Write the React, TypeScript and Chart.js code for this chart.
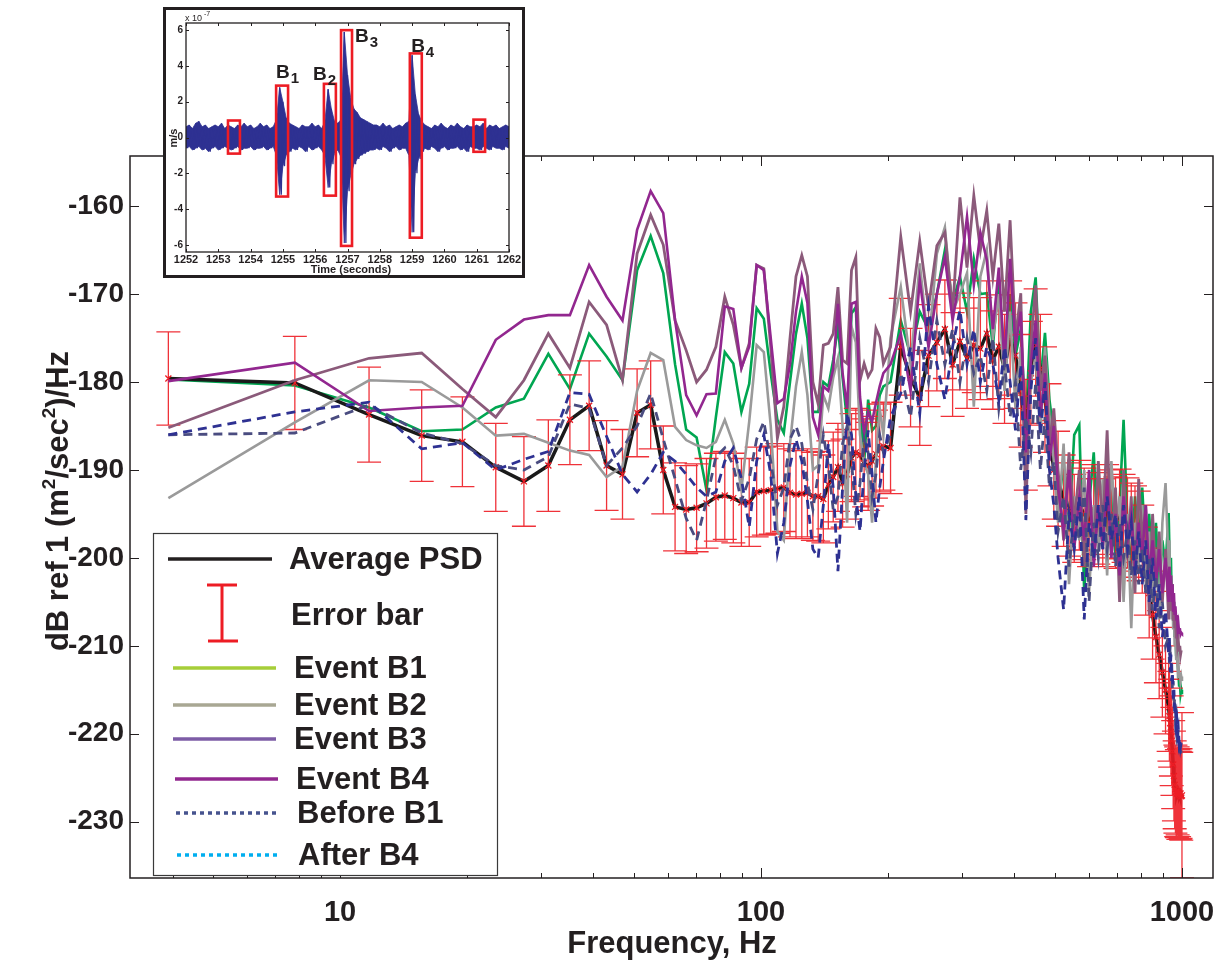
import React, { useEffect, useRef } from 'react';
import { Chart, registerables } from 'chart.js';

Chart.register(...registerables);

// ---------------- Main PSD chart data ----------------
const freqHz = [
  3.91, 7.81, 11.72, 15.63, 19.53, 23.44, 27.34, 31.25, 35.16, 39.06,
  42.97, 46.88, 50.78, 54.69, 58.59, 62.5, 66.41, 70.31, 74.22, 78.13,
  82.03, 85.94, 89.84, 93.75, 97.66, 101.56, 105.47, 109.38, 113.28, 117.19,
  121.09, 125.0, 128.91, 132.81, 136.72, 140.63, 144.53, 148.44, 152.34, 156.25,
  160.16, 164.06, 167.97, 171.88, 175.78, 179.69, 183.59, 187.5, 191.41, 195.31,
  203.1, 214.8, 226.6, 238.3, 250.0, 261.7, 273.4, 285.2, 296.9, 308.6, 320.3, 332.0, 343.8,
  355.5, 367.2, 378.9, 390.6, 402.3, 414.1, 425.8, 437.5, 449.2, 460.9, 472.7, 484.4, 496.1,
  507.8, 523.4, 539.1, 554.7, 570.3, 585.9, 601.6, 617.2, 632.8, 648.4, 664.1, 679.7, 695.3,
  710.9, 726.6, 742.2, 757.8, 773.4,
  789.1, 804.7, 820.3, 835.9, 851.6, 867.2, 882.8, 898.4, 914.1, 929.7,
  933.6, 937.5, 941.4, 945.3, 949.2, 953.1, 957.0, 960.9, 964.8, 968.8,
  972.7, 976.6, 980.5, 984.4, 988.3, 992.2, 996.1, 1000,
];

const averagePsd = [
  -179.6, -180.1, -183.7, -186.1, -186.8, -189.7, -191.3, -189.5, -184.3, -182.7,
  -189.5, -190.5, -183.5, -182.6, -190.0, -194.2, -194.5, -194.3, -193.8, -193.1,
  -192.9, -193.2, -193.7, -193.7, -192.5, -192.4, -192.3, -192.1, -192.0, -192.6,
  -192.8, -192.7, -192.6, -193.0, -193.0, -193.3, -191.7, -190.8, -189.7, -191.5,
  -190.5, -188.6, -188.0, -188.3, -189.2, -189.6, -189.0, -188.2, -187.5, -187.3,
  -187.5, -176.0, -179.5, -181.8, -177.0, -175.5, -174.0, -178.0, -175.4, -177.3, -175.8, -176.2, -174.5,
  -177.5, -176.0, -178.5, -175.0, -177.0, -181.0, -186.0, -179.0, -175.5, -178.5, -182.0, -186.0, -190.0,
  -191.0, -193.5, -194.5, -195.5, -194.0, -195.0, -196.0, -194.5, -195.5, -196.0, -194.5, -195.0, -196.0,
  -195.0, -195.5, -196.0, -196.5, -197.0,
  -197.5, -199.0, -201.5, -204.0, -206.5, -209.0, -211.0, -213.0, -215.0, -217.0,
  -218.0, -218.8, -219.8, -220.8, -222.0, -223.5, -224.8, -225.8, -226.3, -226.6,
  -226.8, -226.5, -226.9, -226.7, -227.0, -226.8, -227.1, -227.0,
];

const errorHalf = [
  5.3, 5.3, 5.4, 5.2, 5.1, 5.0, 5.1, 5.2, 5.1, 5.1,
  5.1, 5.1, 5.0, 5.0, 5.0, 5.0, 5.0, 5.0, 5.1, 5.0,
  5.0, 5.1, 5.0, 5.0, 5.1, 5.0, 5.0, 5.1, 5.0, 5.0,
  5.0, 5.1, 5.0, 5.0, 5.1, 5.0, 5.0, 5.1, 5.0, 5.0,
  5.1, 5.0, 5.0, 5.1, 5.0, 5.0, 5.1, 5.0, 5.0, 5.0,
  5.2, 5.5, 5.6, 5.4, 5.8, 5.5, 5.6, 5.9, 5.5, 5.7, 5.4, 5.8, 6.0,
  5.6, 5.9, 6.2, 6.5, 6.0, 6.4, 6.3, 5.9, 6.1, 6.2, 6.0, 5.8, 5.6,
  5.4, 5.2, 5.3, 5.0, 5.1, 5.2, 5.0, 5.1, 5.2, 5.0, 5.1, 5.0, 5.2,
  5.1, 5.0, 5.1, 5.0, 5.2,
  5.1, 5.0, 5.0, 5.1, 5.0, 5.2, 5.0, 5.1, 5.0, 5.0,
  5.1, 5.0, 5.0, 5.1, 5.0, 5.0, 5.1, 5.0, 5.0, 5.1,
  5.0, 5.0, 5.1, 5.0, 5.0, 5.1, 5.0, 9.4,
];

const eventB1 = [
  -179.7, -180.4, -182.9, -185.6, -185.4, -182.9, -181.9, -176.8, -180.8, -174.5,
  -177.1, -179.8, -167.3, -163.4, -167.6, -178.0, -185.4, -186.3, -192.3, -184.0,
  -176.6, -177.9, -183.4, -180.2, -171.6, -172.8, -179.0, -184.3, -185.8, -180.0,
  -174.5, -171.1, -175.0, -183.4, -183.4, -180.0, -180.5, -177.5, -173.7, -179.5,
  -184.5, -172.2, -171.5, -183.0, -189.2, -182.0, -185.5, -185.0, -181.5, -180.5,
  -180.0, -173.0, -177.0, -172.0, -174.0, -170.0, -165.0, -171.0, -168.0, -172.0, -166.0, -170.0, -169.9,
  -176.0, -168.0, -178.0, -170.0, -177.0, -174.0, -185.0, -172.0, -168.1, -180.0, -174.4, -182.0, -186.0,
  -195.0, -189.0, -197.0, -186.0, -184.9, -203.9, -194.0, -188.0, -199.0, -192.0, -197.0, -190.0, -200.0,
  -194.0, -184.3, -196.0, -201.0, -193.0,
  -199.0, -192.0, -200.0, -195.0, -202.0, -196.0, -204.0, -198.0, -201.0, -194.9,
  -199.0, -203.0, -200.0, -205.0, -203.0, -207.0, -205.0, -209.0, -208.0, -211.0,
  -210.0, -212.0, -213.0, -214.5, -214.0, -215.5, -215.0, -215.5,
];

const eventB2 = [
  -193.2, -184.6, -179.8, -180.0, -182.9, -186.1, -185.9, -186.9, -187.8, -188.3,
  -190.8, -189.6, -181.0, -176.7, -177.5, -185.1, -186.6, -187.2, -187.5, -186.8,
  -184.3, -187.0, -192.2, -184.5, -175.8, -176.6, -185.0, -197.0, -198.0, -187.0,
  -180.5, -176.6, -181.5, -190.0, -189.5, -181.5, -183.0, -179.5, -177.3, -185.0,
  -196.0, -173.7, -175.5, -186.0, -189.2, -190.5, -196.0, -189.0, -183.0, -186.0,
  -175.0, -169.2, -178.0, -166.5, -176.0, -165.4, -162.4, -172.0, -170.0, -167.6, -182.8, -168.0, -165.0,
  -175.0, -170.0, -181.0, -172.0, -183.0, -176.0, -190.0, -180.0, -177.0, -186.0, -176.0, -184.0, -189.0,
  -196.0, -187.0, -203.0, -193.0, -198.0, -190.0, -204.0, -194.0, -199.0, -191.0, -202.0, -189.0, -197.0,
  -193.0, -205.0, -195.0, -208.0, -196.0,
  -201.0, -194.0, -203.0, -197.0, -205.0, -199.0, -207.0, -196.0, -191.5, -201.0,
  -198.0, -204.0, -202.0, -207.0, -204.0, -208.0, -206.0, -210.0, -209.0, -211.5,
  -210.5, -212.5, -212.0, -213.5, -213.0, -214.0, -213.5, -214.0,
];

const eventB3 = [
  -185.2, -179.8, -177.3, -176.7, -180.8, -184.0, -179.8, -174.5, -178.4, -170.9,
  -173.5, -179.8, -165.4, -161.0, -164.4, -173.0, -176.4, -180.0, -178.6, -176.0,
  -170.3, -173.5, -178.4, -175.6, -166.7, -167.1, -176.0, -186.4, -182.8, -175.0,
  -168.0, -165.6, -168.0, -180.0, -182.5, -175.8, -175.6, -174.5, -169.2, -177.5,
  -177.9, -167.3, -165.8, -179.8, -177.9, -179.4, -178.6, -173.9, -174.9, -177.9,
  -176.0, -163.5, -172.0, -164.0, -171.5, -164.5, -163.0, -172.0, -159.0, -167.0, -158.8, -165.0, -160.5,
  -168.0, -162.0, -172.0, -161.6, -175.0, -169.9, -195.0, -176.0, -169.0, -181.0, -177.0, -187.0, -183.0,
  -190.0, -198.0, -188.0, -196.0, -190.0, -201.0, -192.0, -199.0, -189.0, -197.0, -185.5, -199.0, -192.0,
  -205.0, -190.0, -200.0, -193.0, -204.0,
  -191.0, -198.0, -194.0, -206.5, -195.0, -203.0, -197.0, -205.0, -199.0, -207.0,
  -201.0, -204.0, -202.0, -206.0, -203.0, -207.0, -205.0, -208.0, -207.0, -209.0,
  -208.5, -210.0, -209.5, -210.5, -210.0, -211.0, -210.5, -210.5,
];

const eventB4 = [
  -179.9, -177.8, -183.3, -182.9, -182.7, -175.2, -172.9, -172.4, -172.4, -166.7,
  -170.3, -173.0, -162.7, -158.3, -160.8, -173.0, -181.5, -183.8, -181.4, -181.3,
  -171.4, -171.7, -178.4, -176.0, -166.7, -167.3, -175.0, -182.4, -181.9, -178.0,
  -172.0, -168.0, -171.0, -184.0, -186.0, -180.5, -181.0, -178.5, -171.1, -179.0,
  -183.0, -171.1, -170.9, -181.7, -185.8, -183.4, -184.5, -182.4, -180.5, -179.0,
  -178.0, -174.5, -181.0, -168.4, -176.0, -170.0, -165.8, -173.0, -168.0, -161.2, -169.0, -163.0, -166.1,
  -174.0, -167.0, -178.0, -166.0, -176.0, -172.0, -188.0, -178.0, -173.0, -184.0, -179.0, -189.0, -185.0,
  -192.0, -197.0, -190.0, -199.0, -193.0, -198.0, -190.0, -201.0, -194.0, -199.0, -191.0, -200.0, -195.0,
  -202.0, -193.0, -198.0, -195.0, -201.0,
  -196.0, -200.0, -194.0, -202.0, -198.0, -203.0, -199.0, -204.0, -200.0, -205.0,
  -201.0, -204.0, -202.0, -205.0, -203.0, -206.0, -204.0, -206.5, -205.5, -207.0,
  -206.5, -208.0, -207.5, -208.5, -208.0, -208.7, -208.5, -208.6,
];

const beforeB1 = [
  -186.0, -183.4, -182.3, -187.6, -186.9, -190.0, -188.8, -187.9, -181.2, -181.4,
  -186.2, -190.5, -192.5, -190.5, -188.0, -189.0, -190.5, -192.0, -193.0, -192.5,
  -189.0, -187.5, -191.0, -196.5, -189.0, -186.0, -190.5, -199.5, -196.0, -189.5,
  -186.5, -189.0, -193.5, -199.0, -200.0, -194.0, -187.0, -192.0, -201.5, -192.0,
  -183.5, -186.0, -193.0, -197.0, -190.0, -185.5, -190.5, -196.0, -192.0, -189.0,
  -184.0, -181.3, -176.0, -183.6, -171.4, -178.0, -182.0, -176.0, -171.8, -178.0, -174.0, -180.0, -176.0,
  -178.0, -182.0, -176.0, -180.0, -185.5, -178.0, -195.7, -181.0, -175.0, -186.0, -180.0, -190.0, -194.0,
  -200.0, -205.9, -195.0, -199.0, -193.0, -207.0, -196.0, -200.0, -194.0, -199.0, -193.0, -198.0, -195.0,
  -201.0, -194.0, -199.0, -196.0, -202.0,
  -197.0, -203.0, -198.0, -205.0, -200.0, -207.0, -203.0, -209.0, -206.0, -211.0,
  -209.0, -213.0, -211.0, -214.0, -213.0, -216.0, -215.0, -217.5, -217.0, -219.0,
  -218.5, -220.0, -219.5, -221.0, -220.5, -221.5, -221.0, -221.5,
];

const afterB4 = [
  -186.0, -185.8, -182.6, -185.8, -187.0, -189.5, -190.0, -188.5, -182.5, -183.0,
  -189.5, -187.5, -185.0, -181.3, -186.5, -191.0, -195.5, -198.0, -193.5, -188.5,
  -187.5, -189.5, -193.5, -191.0, -186.5, -184.5, -189.0, -194.0, -192.0, -186.5,
  -185.0, -187.0, -191.5, -194.5, -190.5, -186.0, -189.5, -194.5, -193.0, -187.0,
  -185.0, -189.0, -195.0, -191.5, -186.5, -188.0, -193.0, -190.5, -186.0, -188.0,
  -186.0, -179.0, -184.0, -175.0, -180.0, -173.0, -178.0, -174.0, -180.0, -175.0, -179.0, -177.0, -181.0,
  -175.0, -183.0, -178.0, -184.0, -180.0, -190.0, -184.0, -188.0, -180.0, -190.0, -184.0, -192.0, -189.0,
  -197.0, -193.0, -201.0, -195.0, -198.0, -192.0, -205.0, -196.0, -200.0, -194.0, -199.0, -195.0, -201.0,
  -196.0, -200.0, -197.0, -202.0, -198.0,
  -203.0, -199.0, -204.0, -200.0, -206.0, -202.0, -208.0, -205.0, -210.0, -209.0,
  -212.0, -210.0, -213.0, -212.0, -215.0, -214.0, -217.0, -216.0, -218.5, -218.0,
  -220.0, -219.5, -221.0, -221.0, -222.0, -222.0, -222.5, -222.0,
];

const yTickValues = [-230, -220, -210, -200, -190, -180, -170, -160];
const xTickLabels = [10, 100, 1000];

const legendLabels = ['Average PSD', 'Error bar', 'Event B1', 'Event B2', 'Event B3', 'Event B4', 'Before B1', 'After B4'];

// ---------------- Inset waveform data (units of 1e-7 m/s) ----------------
const waveStart = 1252;
const waveStep = 0.1;
const waveHigh = [
  0.6, 0.7, 0.5, 0.8, 0.9, 0.6, 0.7, 0.5, 0.6, 0.7,
  0.6, 0.8, 0.5, 0.7, 0.6, 0.5, 0.7, 0.6, 0.8, 0.6,
  0.7, 0.5, 0.6, 0.8, 0.6, 0.7, 0.5, 0.6, 1.0, 2.8,
  2.0, 1.1, 0.8, 0.7, 0.6, 0.5, 0.7, 0.6, 0.6, 0.8,
  0.6, 0.7, 0.5, 0.9, 2.7, 1.6, 0.9, 0.8, 1.0, 5.9,
  3.5, 2.2, 1.6, 1.4, 1.1, 1.0, 0.9, 0.8, 0.7, 0.7,
  0.6, 0.8, 0.6, 0.7, 0.5, 0.6, 0.7, 0.6, 0.8, 0.9,
  4.6, 2.4, 1.3, 0.9, 0.7, 0.6, 0.5, 0.7, 0.6, 0.8,
  0.6, 0.5, 0.7, 0.6, 0.8, 0.6, 0.5, 0.7, 0.6, 0.6,
  0.7, 0.6, 0.8, 0.5, 0.7, 0.6, 0.7, 0.5, 0.6, 0.7,
  0.6,
];
const waveLow = [
  -0.6, -0.5, -0.7, -0.6, -0.5, -0.7, -0.6, -0.8, -0.6, -0.5,
  -0.7, -0.6, -0.5, -0.6, -0.7, -0.6, -0.5, -0.7, -0.6, -0.6,
  -0.5, -0.7, -0.6, -0.6, -0.5, -0.7, -0.6, -0.5, -1.0, -3.2,
  -1.6, -1.0, -0.8, -0.6, -0.7, -0.5, -0.6, -0.8, -0.5, -0.7,
  -0.6, -0.5, -0.7, -1.0, -2.8, -1.5, -0.9, -0.7, -1.1, -5.9,
  -3.0, -2.1, -1.5, -1.2, -1.0, -0.9, -0.8, -0.7, -0.7, -0.6,
  -0.7, -0.5, -0.6, -0.8, -0.6, -0.5, -0.7, -0.6, -0.6, -1.0,
  -5.3, -2.0, -1.2, -0.8, -0.6, -0.7, -0.5, -0.6, -0.8, -0.6,
  -0.5, -0.7, -0.6, -0.6, -0.5, -0.7, -0.6, -0.8, -0.5, -0.6,
  -0.6, -0.7, -0.5, -0.6, -0.7, -0.5, -0.6, -0.6, -0.7, -0.5,
  -0.6,
];
const boxStart = [1253.3, 1254.79, 1256.27, 1256.8, 1258.93, 1260.9];
const boxEnd = [1253.67, 1255.16, 1256.64, 1257.14, 1259.3, 1261.26];
const boxTop = [0.95, 2.9, 3.0, 6.0, 4.7, 1.0];
const boxBottom = [-0.9, -3.3, -3.25, -6.06, -5.6, -0.8];
const burstNames = ['1', '2', '3', '4'];
const burstLabelT = [1254.79, 1255.93, 1257.23, 1258.97];
const burstLabelV = [3.32, 3.2, 5.34, 4.78];

const FONT = "'Liberation Sans', Arial, Helvetica, sans-serif";
const NARROW = "'Liberation Sans Narrow', 'Liberation Sans', Arial, sans-serif";
const INK = '#231f20';
const RED = '#ed1c24';
const NAVY = '#2e3192';

function pts(arr: number[]) {
  return freqHz.map((f, i) => ({ x: f, y: arr[i] }));
}

function drawRich(ctx: CanvasRenderingContext2D, segs: [string, boolean][], x: number, y: number, size: number, family: string) {
  const base = `bold ${size}px ${family}`;
  const sup = `bold ${Math.round(size * 0.62)}px ${family}`;
  let w = 0;
  for (const [t, s] of segs) { ctx.font = s ? sup : base; w += ctx.measureText(t).width; }
  let cx = x - w / 2;
  ctx.textAlign = 'left';
  ctx.textBaseline = 'alphabetic';
  for (const [t, s] of segs) {
    ctx.font = s ? sup : base;
    ctx.fillText(t, cx, s ? y - size * 0.42 : y);
    cx += ctx.measureText(t).width;
  }
}

const mainPlugin = {
  id: 'psdDecor',
  afterDatasetDraw(chart: any, args: any) {
    if (args.index !== 5) return;
    const ctx = chart.ctx as CanvasRenderingContext2D;
    const xs = chart.scales.x, ys = chart.scales.y;
    const { left, right, top, bottom } = chart.chartArea;
    ctx.save();
    ctx.beginPath();
    ctx.rect(left, top, right - left, bottom - top);
    ctx.clip();
    ctx.strokeStyle = 'rgba(237,28,36,0.9)';
    ctx.lineWidth = 1.3;
    ctx.beginPath();
    for (let i = 0; i < freqHz.length; i++) {
      const x = xs.getPixelForValue(freqHz[i]);
      const yt = ys.getPixelForValue(averagePsd[i] + errorHalf[i]);
      const yb = ys.getPixelForValue(averagePsd[i] - errorHalf[i]);
      ctx.moveTo(x, yt); ctx.lineTo(x, yb);
      ctx.moveTo(x - 12, yt); ctx.lineTo(x + 12, yt);
      ctx.moveTo(x - 12, yb); ctx.lineTo(x + 12, yb);
    }
    ctx.stroke();
    ctx.strokeStyle = RED;
    ctx.lineWidth = 1.3;
    ctx.beginPath();
    for (let i = 0; i < freqHz.length; i++) {
      const x = xs.getPixelForValue(freqHz[i]);
      const y = ys.getPixelForValue(averagePsd[i]);
      ctx.moveTo(x - 3, y - 3); ctx.lineTo(x + 3, y + 3);
      ctx.moveTo(x - 3, y + 3); ctx.lineTo(x + 3, y - 3);
    }
    ctx.stroke();
    ctx.restore();
  },
  afterDraw(chart: any) {
    const ctx = chart.ctx as CanvasRenderingContext2D;
    const { left, right, top, bottom } = chart.chartArea;
    const xs = chart.scales.x, ys = chart.scales.y;
    ctx.save();
    ctx.strokeStyle = INK;
    ctx.lineWidth = 1.5;
    ctx.strokeRect(left, top, right - left, bottom - top);
    ctx.lineWidth = 1;
    ctx.beginPath();
    for (const d of [1, 10, 100, 1000]) {
      for (let m = 1; m <= 9; m++) {
        const v = m * d;
        if (v < xs.min || v > xs.max) continue;
        const x = Math.round(xs.getPixelForValue(v)) + 0.5;
        const len = m === 1 ? 10 : 5;
        ctx.moveTo(x, bottom); ctx.lineTo(x, bottom - len);
        ctx.moveTo(x, top); ctx.lineTo(x, top + len);
      }
    }
    for (const v of yTickValues) {
      const y = Math.round(ys.getPixelForValue(v)) + 0.5;
      ctx.moveTo(left, y); ctx.lineTo(left + 9, y);
      ctx.moveTo(right, y); ctx.lineTo(right - 9, y);
    }
    ctx.stroke();

    ctx.fillStyle = INK;
    ctx.font = `bold 31px ${NARROW}`;
    ctx.textAlign = 'center';
    ctx.textBaseline = 'middle';
    ctx.fillText('Frequency, Hz', 672, 944);
    ctx.save();
    ctx.translate(57, 501);
    ctx.rotate(-Math.PI / 2);
    drawRich(ctx, [['dB ref 1 (m', false], ['2', true], ['/sec', false], ['2', true], [')/Hz', false]], 0, 11, 31, FONT);
    ctx.restore();

    const bx = 153, by = 533, bw = 344, bh = 342;
    ctx.fillStyle = '#ffffff';
    ctx.fillRect(bx, by, bw, bh);
    ctx.strokeStyle = '#3a3a3a';
    ctx.lineWidth = 1.2;
    ctx.strokeRect(bx + 0.5, by + 0.5, bw, bh);
    const rows = [
      { y: 559, color: '#231f20', dash: [] as number[], x0: 168, x1: 272, tx: 289 },
      { y: 615, color: RED, dash: [] as number[], x0: 0, x1: 0, tx: 291 },
      { y: 668, color: '#a6ce39', dash: [] as number[], x0: 173, x1: 276, tx: 294 },
      { y: 705, color: '#a8a793', dash: [] as number[], x0: 173, x1: 276, tx: 294 },
      { y: 739, color: '#7d5ca6', dash: [] as number[], x0: 173, x1: 276, tx: 294 },
      { y: 779, color: '#92278f', dash: [] as number[], x0: 175, x1: 278, tx: 296 },
      { y: 813, color: '#46538e', dash: [4, 4], x0: 176, x1: 279, tx: 297 },
      { y: 855, color: '#00aeef', dash: [4, 4], x0: 177, x1: 280, tx: 298 },
    ];
    rows.forEach((r, i) => {
      if (i === 1) {
        ctx.strokeStyle = RED;
        ctx.lineWidth = 3;
        ctx.setLineDash([]);
        ctx.beginPath();
        ctx.moveTo(222, 585); ctx.lineTo(222, 641);
        ctx.moveTo(207, 585); ctx.lineTo(237, 585);
        ctx.moveTo(208, 641); ctx.lineTo(238, 641);
        ctx.stroke();
      } else {
        ctx.strokeStyle = r.color;
        ctx.lineWidth = 3.5;
        ctx.setLineDash(r.dash);
        ctx.beginPath();
        ctx.moveTo(r.x0, r.y); ctx.lineTo(r.x1, r.y);
        ctx.stroke();
      }
      ctx.setLineDash([]);
      ctx.fillStyle = INK;
      ctx.font = `bold 31px ${FONT}`;
      ctx.textAlign = 'left';
      ctx.textBaseline = 'middle';
      ctx.fillText(legendLabels[i], r.tx, r.y + 1);
    });
    ctx.restore();
  },
};

const insetPlugin = {
  id: 'insetDecor',
  afterDatasetsDraw(chart: any) {
    const ctx = chart.ctx as CanvasRenderingContext2D;
    const xs = chart.scales.x, ys = chart.scales.y;
    ctx.save();
    ctx.strokeStyle = RED;
    ctx.lineWidth = 2.6;
    for (let i = 0; i < boxStart.length; i++) {
      const x0 = xs.getPixelForValue(boxStart[i]);
      const x1 = xs.getPixelForValue(boxEnd[i]);
      const y0 = ys.getPixelForValue(boxTop[i]);
      const y1 = ys.getPixelForValue(boxBottom[i]);
      ctx.strokeRect(x0, y0, x1 - x0, y1 - y0);
    }
    ctx.fillStyle = INK;
    ctx.textAlign = 'left';
    ctx.textBaseline = 'alphabetic';
    for (let i = 0; i < burstNames.length; i++) {
      const x = xs.getPixelForValue(burstLabelT[i]);
      const y = ys.getPixelForValue(burstLabelV[i]);
      ctx.font = `bold 19px ${FONT}`;
      ctx.fillText('B', x, y);
      const w = ctx.measureText('B').width;
      ctx.font = `bold 15px ${FONT}`;
      ctx.fillText(burstNames[i], x + w + 1, y + 5);
    }
    ctx.restore();
  },
  afterDraw(chart: any) {
    const ctx = chart.ctx as CanvasRenderingContext2D;
    const { left, right, top, bottom } = chart.chartArea;
    const xs = chart.scales.x, ys = chart.scales.y;
    ctx.save();
    ctx.strokeStyle = INK;
    ctx.lineWidth = 1.3;
    ctx.strokeRect(left, top, right - left, bottom - top);
    ctx.lineWidth = 1;
    ctx.beginPath();
    for (let t = 1252; t <= 1262; t++) {
      const x = Math.round(xs.getPixelForValue(t)) + 0.5;
      ctx.moveTo(x, bottom); ctx.lineTo(x, bottom - 3);
      ctx.moveTo(x, top); ctx.lineTo(x, top + 3);
    }
    for (let v = -6; v <= 6; v += 2) {
      const y = Math.round(ys.getPixelForValue(v)) + 0.5;
      ctx.moveTo(left, y); ctx.lineTo(left + 3, y);
      ctx.moveTo(right, y); ctx.lineTo(right - 3, y);
    }
    ctx.stroke();
    ctx.fillStyle = INK;
    ctx.textAlign = 'left';
    ctx.textBaseline = 'alphabetic';
    ctx.font = `9px ${FONT}`;
    ctx.fillText('x 10', 19, 11);
    ctx.font = `7px ${FONT}`;
    ctx.fillText('-7', 38, 6);
    ctx.font = `bold 11px ${NARROW}`;
    ctx.textAlign = 'center';
    ctx.textBaseline = 'middle';
    ctx.fillText('Time (seconds)', 185, 260);
    ctx.save();
    ctx.translate(8, 128);
    ctx.rotate(-Math.PI / 2);
    ctx.font = `bold 11px ${FONT}`;
    ctx.fillText('m/s', 0, 0);
    ctx.restore();
    ctx.restore();
  },
};

export default function App() {
  const mainRef = useRef<HTMLCanvasElement | null>(null);
  const insetRef = useRef<HTMLCanvasElement | null>(null);

  useEffect(() => {
    const lineDs = (label: string, data: number[], color: string, width: number, dash: number[] = []) => ({
      label,
      data: pts(data),
      borderColor: color,
      backgroundColor: color,
      borderWidth: width,
      borderDash: dash,
      pointRadius: 0,
      tension: 0,
      fill: false,
    });
    const main = new Chart(mainRef.current as HTMLCanvasElement, {
      type: 'line',
      data: {
        datasets: [
          lineDs('Before B1', beforeB1, NAVY, 2.8, [9, 6]),
          lineDs('After B4', afterB4, '#4a4c80', 2.8, [9, 6]),
          lineDs('Event B4', eventB4, '#92278f', 2.6),
          lineDs('Event B3', eventB3, '#8b5a7a', 2.8),
          lineDs('Event B2', eventB2, '#9a9a9a', 2.6),
          {
            label: 'Average PSD',
            data: pts(averagePsd),
            borderColor: '#1a1a1a',
            borderWidth: 3.5,
            pointRadius: 0,
            tension: 0,
            fill: false,
          },
          lineDs('Event B1', eventB1, '#00a651', 2.6),
        ],
      },
      options: {
        responsive: false,
        animation: false,
        devicePixelRatio: 1,
        layout: { padding: { left: 0, top: 156, right: 10, bottom: 0 } },
        plugins: { legend: { display: false }, tooltip: { enabled: false }, title: { display: false } },
        scales: {
          x: {
            type: 'logarithmic',
            min: 3.17,
            max: 1185,
            position: 'bottom',
            grid: { display: false, drawTicks: false },
            border: { display: false },
            afterFit: (s: any) => { s.height = 91; s.paddingLeft = 0; s.paddingRight = 0; },
            ticks: {
              autoSkip: false,
              maxRotation: 0,
              includeBounds: false,
              padding: 18,
              color: INK,
              font: { family: NARROW, size: 29, weight: 'bold' },
              callback: (v: any) => {
                const n = Number(v);
                return xTickLabels.some((t) => Math.abs(t - n) < 1e-6) ? String(n) : '';
              },
            },
          },
          y: {
            type: 'linear',
            min: -236.4,
            max: -154.3,
            grid: { display: false, drawTicks: false },
            border: { display: false },
            afterFit: (s: any) => { s.width = 130; s.paddingTop = 0; s.paddingBottom = 0; },
            ticks: {
              stepSize: 10,
              includeBounds: false,
              padding: 6,
              color: INK,
              font: { family: FONT, size: 28, weight: 'bold' },
              callback: (v: any) => (yTickValues.includes(Number(v)) ? String(v) : ''),
            },
          },
        },
      } as any,
      plugins: [mainPlugin],
    });

    const wavePts: { x: number; y: number }[] = [];
    const hiPts: { x: number; y: number }[] = [];
    const loPts: { x: number; y: number }[] = [];
    for (let i = 0; i < waveHigh.length; i++) {
      const t = waveStart + i * waveStep;
      wavePts.push({ x: t, y: waveHigh[i] });
      hiPts.push({ x: t, y: waveHigh[i] });
      if (i < waveHigh.length - 1) {
        wavePts.push({ x: t + waveStep / 2, y: waveLow[i] });
      }
      loPts.push({ x: t, y: waveLow[i] });
    }
    const inset = new Chart(insetRef.current as HTMLCanvasElement, {
      type: 'line',
      data: {
        datasets: [
          {
            label: 'velocity',
            data: wavePts,
            borderColor: NAVY,
            borderWidth: 1.3,
            pointRadius: 0,
            tension: 0,
            fill: false,
          },
          {
            label: 'upper',
            data: hiPts,
            borderColor: NAVY,
            backgroundColor: NAVY,
            borderWidth: 0.8,
            pointRadius: 0,
            tension: 0,
            fill: '+1',
          },
          {
            label: 'lower',
            data: loPts,
            borderColor: NAVY,
            borderWidth: 0.8,
            pointRadius: 0,
            tension: 0,
            fill: false,
          },
        ],
      },
      options: {
        responsive: false,
        animation: false,
        devicePixelRatio: 1,
        layout: { padding: { left: 0, top: 13, right: 13, bottom: 0 } },
        plugins: { legend: { display: false }, tooltip: { enabled: false } },
        scales: {
          x: {
            type: 'linear',
            min: 1252,
            max: 1262,
            grid: { display: false, drawTicks: false },
            border: { display: false },
            afterFit: (s: any) => { s.height = 23; s.paddingLeft = 0; s.paddingRight = 0; },
            ticks: {
              stepSize: 1,
              includeBounds: false,
              maxRotation: 0,
              autoSkip: false,
              padding: 1,
              color: INK,
              font: { family: NARROW, size: 11, weight: 'bold' },
              callback: (v: any) => String(v),
            },
          },
          y: {
            type: 'linear',
            min: -6.4,
            max: 6.4,
            grid: { display: false, drawTicks: false },
            border: { display: false },
            afterFit: (s: any) => { s.width = 20; s.paddingTop = 0; s.paddingBottom = 0; },
            ticks: {
              stepSize: 2,
              includeBounds: false,
              padding: 3,
              color: INK,
              font: { family: FONT, size: 10, weight: 'bold' },
            },
          },
        },
      } as any,
      plugins: [insetPlugin],
    });

    return () => {
      main.destroy();
      inset.destroy();
    };
  }, []);

  return (
    <div style={{ position: 'absolute', left: 0, top: 0, width: 1223, height: 969, background: '#ffffff', overflow: 'hidden' }}>
      <canvas ref={mainRef} width={1223} height={969} style={{ position: 'absolute', left: 0, top: 0, width: 1223, height: 969 }} />
      <div
        style={{
          position: 'absolute',
          left: 163,
          top: 7,
          width: 362,
          height: 271,
          boxSizing: 'border-box',
          border: '3px solid #231f20',
          background: '#ffffff',
        }}
      >
        <canvas ref={insetRef} width={356} height={265} style={{ display: 'block', width: 356, height: 265 }} />
      </div>
    </div>
  );
}
